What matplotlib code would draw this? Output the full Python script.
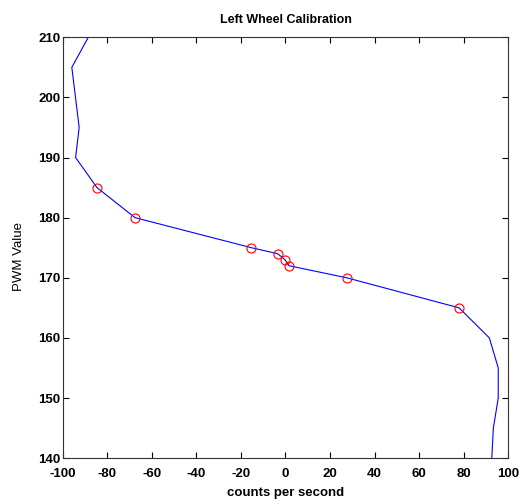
import matplotlib
matplotlib.use("Agg")
import matplotlib.pyplot as plt

# Calibration curve (counts per second vs PWM value)
curve_pwm = [210, 205, 195, 190, 185, 180, 175, 174, 173, 172, 170, 165, 160, 155, 150, 145, 140]
curve_cps = [-88.6, -96.0, -92.7, -94.3, -84.7, -67.6, -15.3, -3.5, -0.2, 1.6, 27.5, 78.0, 91.6, 95.6, 95.6, 93.4, 92.7]

# Measured points (red circles)
meas_pwm = [185, 180, 175, 174, 173, 172, 170, 165]
meas_cps = [-84.7, -67.6, -15.3, -3.5, -0.2, 1.6, 27.5, 78.0]

x_ticks = [-100, -80, -60, -40, -20, 0, 20, 40, 60, 80, 100]
y_ticks = [140, 150, 160, 170, 180, 190, 200, 210]

plt.rcParams['font.family'] = ['Liberation Sans', 'DejaVu Sans']

fig = plt.figure(figsize=(5.20, 5.04), dpi=100)
ax = fig.add_axes([0.121, 0.091, 0.856, 0.835])

ax.plot(curve_cps, curve_pwm, color='#0000ff', linewidth=0.8)
ax.plot(meas_cps, meas_pwm, linestyle='none', marker='o', markersize=6.5,
        markerfacecolor='none', markeredgecolor='#ff0000', markeredgewidth=0.8)

ax.set_xlim(-100, 100)
ax.set_ylim(140, 210)
ax.set_xticks(x_ticks)
ax.set_yticks(y_ticks)
ax.set_xticklabels([str(v) for v in x_ticks], fontweight='bold', fontsize=9.5)
ax.set_yticklabels([str(v) for v in y_ticks], fontweight='bold', fontsize=9.5)
ax.tick_params(direction='in', length=4, width=0.8, top=True, right=True)
ax.tick_params(axis='x', pad=7)
ax.tick_params(axis='y', pad=2)
for s in ax.spines.values():
    s.set_linewidth(0.8)
    s.set_color('#333333')

ax.set_title('Left Wheel Calibration', fontweight='bold', fontsize=9, pad=10)
ax.set_xlabel('counts per second', fontweight='bold', fontsize=9.5, labelpad=5)
ax.set_ylabel('PWM Value', fontsize=9.5)
ax.yaxis.set_label_coords(-0.085, 0.48)

fig.savefig('out.png', dpi=100)
